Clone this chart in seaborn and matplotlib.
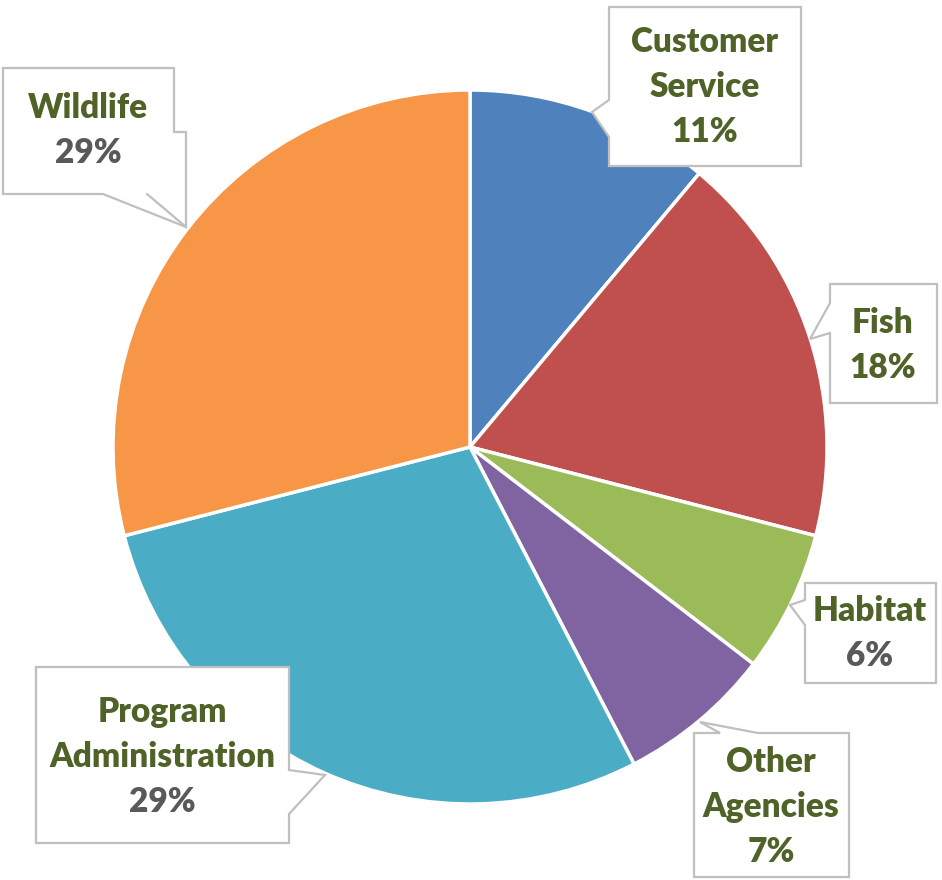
import matplotlib
matplotlib.use("Agg")
import matplotlib.pyplot as plt
from matplotlib.patches import Polygon
import seaborn as sns

categories = ["Customer Service", "Fish", "Habitat", "Other Agencies", "Program Administration", "Wildlife"]
values = [11.1, 17.9, 6.4, 7.0, 28.6, 29.0]
name_lines = [["Customer", "Service"], ["Fish"], ["Habitat"], ["Other", "Agencies"], ["Program", "Administration"], ["Wildlife"]]
pct_colors = ["#4F6228", "#4F6228", "#595959", "#4F6228", "#595959", "#595959"]
slice_colors = ["#4F81BD", "#C0504D", "#9BBB59", "#8064A2", "#4BACC6", "#F79646"]

sns.set_theme(style="white")
plt.rcParams["font.family"] = ["Lato", "DejaVu Sans"]

W, H = 942, 880
fig = plt.figure(figsize=(W / 100, H / 100), dpi=100)
ax = fig.add_axes([0, 0, 1, 1])

def P(x, y):
    return (x, H - y)

palette = sns.color_palette(slice_colors)
ax.pie(values, colors=palette, startangle=90, counterclock=False,
       center=P(470, 447), radius=357, frame=True,
       wedgeprops=dict(edgecolor="white", linewidth=2.5))
ax.set_xlim(0, W)
ax.set_ylim(0, H)
ax.set_aspect("equal")
ax.axis("off")

# callout boxes (layout, pixel coords)
boxes = [
    [(609, 7), (801, 7), (801, 166), (609, 166), (609, 137), (592, 112), (609, 100)],
    [(830, 284), (937, 284), (937, 403), (830, 403), (830, 333), (810, 339), (830, 303)],
    [(805, 583), (936, 583), (936, 683), (805, 683), (805, 625), (790, 605), (805, 600)],
    [(694, 733), (720, 733), (700, 722), (758, 733), (849, 733), (849, 877), (694, 877)],
    [(36, 667), (289, 667), (289, 770), (325, 775), (289, 814), (289, 843), (36, 843)],
    [(3, 68), (174, 68), (174, 132), (186, 132), (186, 227), (103, 194), (3, 194)],
]
text_pos = [(705, 42), (883, 323), (870, 611), (771, 762), (162, 712), (88, 108)]
line_h = 45

for i, cat in enumerate(categories):
    poly = Polygon([P(x, y) for x, y in boxes[i]], closed=True, facecolor="white",
                   edgecolor="#BFBFBF", linewidth=1.6, zorder=5)
    ax.add_patch(poly)
    x0, y0 = text_pos[i]
    lines = name_lines[i]
    for j, ln in enumerate(lines):
        ax.text(*P(x0, y0 + j * line_h), ln, ha="center", va="center",
                fontsize=24, fontweight="heavy", color="#4F6228", zorder=6)
    ax.text(*P(x0, y0 + len(lines) * line_h), f"{round(values[i])}%", ha="center", va="center",
            fontsize=24, fontweight="heavy", color=pct_colors[i], zorder=6)

ax.plot([P(147, 194)[0], P(186, 227)[0]], [P(147, 194)[1], P(186, 227)[1]],
        color="#BFBFBF", linewidth=1.6, zorder=5)

fig.savefig("out.png", dpi=100)
